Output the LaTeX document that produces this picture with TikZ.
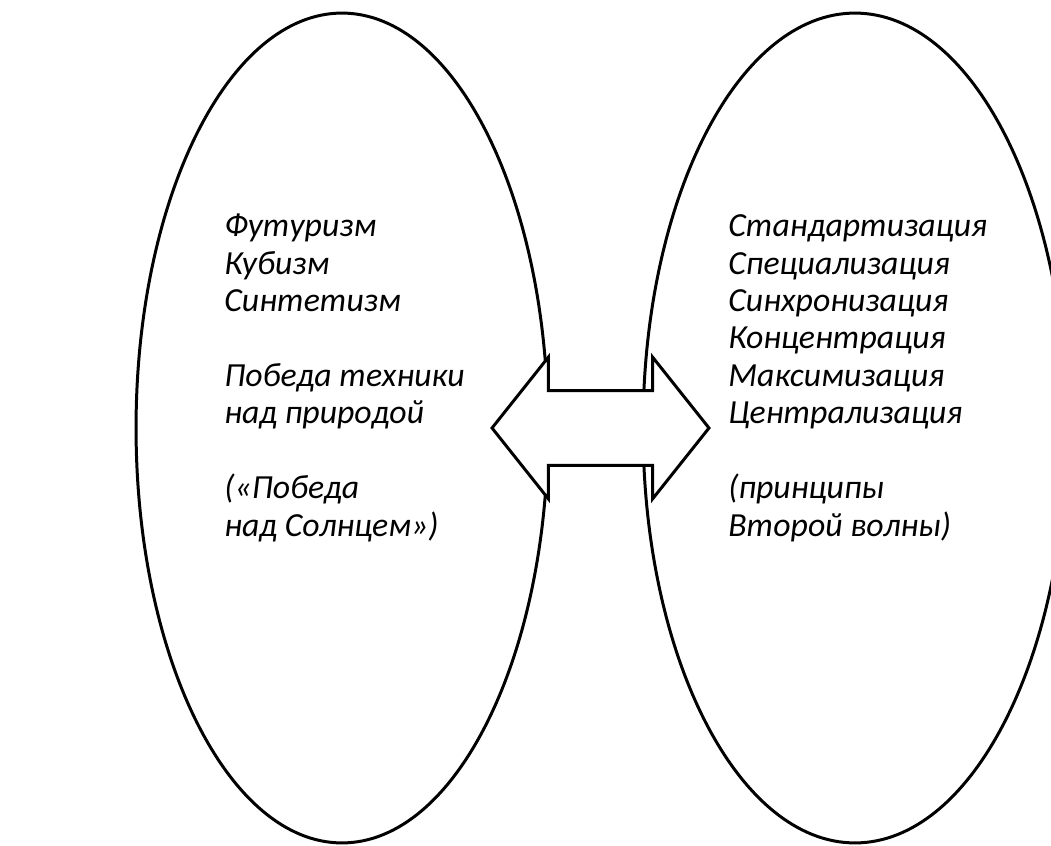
\documentclass[tikz,border=0pt]{standalone}
\usepackage{fontspec}
\setmainfont{Carlito}
\usetikzlibrary{shapes.geometric, shapes.arrows}

\begin{document}
\begin{tikzpicture}[
  x=0.02cm, y=-0.02cm, every node/.style={align=left},
  oval/.style={ellipse, draw, line width=1.7pt, inner sep=0pt, minimum height=16.6cm},
  twoway/.style={double arrow, draw, fill=white, line width=1.7pt, inner xsep=0pt, inner ysep=0.72cm,
    double arrow head extend=0.67cm, double arrow tip angle=103, minimum height=4.34cm},
  words/.style={anchor=base west, inner sep=0pt, font=\itshape\fontsize{19.2}{21.3}\selectfont}
]
\useasboundingbox (0,0) rectangle (1051,845);
\clip (0,0) rectangle (1051,845);
\node[oval, minimum width=8.24cm] (art) at (342,428) {};
\node[oval, minimum width=8.48cm] (wave) at (855,428) {};
\node[twoway] (link) at (600.5,428) {};
\node[words] (artlist) at (224,536) {Футуризм\\Кубизм\\Синтетизм\\[21.3pt]Победа техники\\над природой\\[21.3pt](«Победа\\над Солнцем»)};
\node[words] (wavelist) at (728,536) {Стандартизация\\Специализация\\Синхронизация\\Концентрация\\Максимизация\\Централизация\\[21.3pt](принципы\\Второй волны)};
\end{tikzpicture}
\end{document}
